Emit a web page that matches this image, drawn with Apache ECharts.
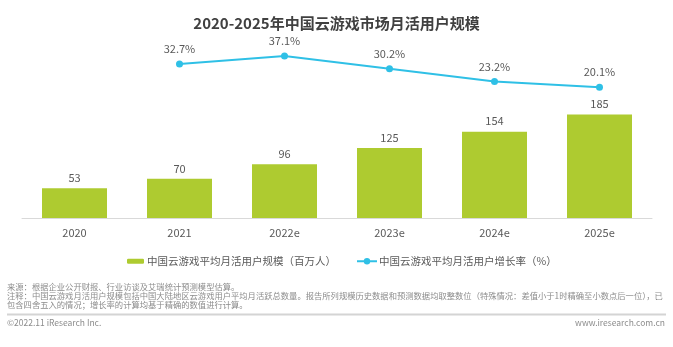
<!DOCTYPE html>
<html>
<head>
<meta charset="utf-8">
<script src="https://cdn.jsdelivr.net/npm/echarts@6/dist/echarts.min.js"></script>
<style>
html,body{margin:0;padding:0;background:#fff;}
#chart{width:673px;height:347px;}
</style>
</head>
<body>
<div id="chart"></div>
<script>
// Monthly active cloud-gaming users in China, 2020-2025e
const categories = ['2020', '2021', '2022e', '2023e', '2024e', '2025e'];
const userScale = [53, 70, 96, 125, 154, 185];           // millions
const growthRate = [null, 32.7, 37.1, 30.2, 23.2, 20.1]; // %

const barName = '中国云游戏平均月活用户规模（百万人）';
const lineName = '中国云游戏平均月活用户增长率（%）';

const FONT = '"Noto Sans CJK SC", "Noto Sans", sans-serif';
const GREEN = '#aecb30';
const CYAN = '#2fc0e6';
const GRAY = '#595959';

const footNotes = [
  '来源：根据企业公开财报、行业访谈及艾瑞统计预测模型估算。',
  '注释：中国云游戏月活用户规模包括中国大陆地区云游戏用户平均月活跃总数量。报告所列规模历史数据和预测数据均取整数位（特殊情况：差值小于1时精确至小数点后一位），已',
  '包含四舍五入的情况；增长率的计算均基于精确的数值进行计算。'
];

const chart = echarts.init(document.getElementById('chart'), null, {renderer: 'canvas'});

chart.setOption({
  backgroundColor: '#fff',
  animation: false,
  textStyle: {fontFamily: FONT},
  title: {
    text: '2020-2025年中国云游戏市场月活用户规模',
    left: 'center',
    top: 11,
    textStyle: {fontSize: 15, fontWeight: 'bold', color: '#404040', fontFamily: FONT}
  },
  legend: [
    {
      data: [barName],
      left: 122,
      top: 251,
      itemWidth: 17,
      itemHeight: 5,
      itemGap: 4,
      textStyle: {fontSize: 10.5, color: GRAY, fontFamily: FONT, padding: [0, 0, 0, -2]}
    },
    {
      data: [lineName],
      left: 351,
      top: 251,
      itemWidth: 20,
      itemHeight: 8,
      textStyle: {fontSize: 10.5, color: GRAY, fontFamily: FONT, padding: [0, 0, 0, -3]}
    }
  ],
  grid: {left: 22, right: 21, top: 40, bottom: 129},
  xAxis: {
    type: 'category',
    data: categories,
    axisLine: {lineStyle: {color: '#d9d9d9', width: 1}},
    axisTick: {show: false},
    axisLabel: {color: GRAY, fontSize: 11, margin: 9, fontFamily: FONT}
  },
  yAxis: [
    {type: 'value', min: 0, max: 318, show: false, splitLine: {show: false}},
    {type: 'value', min: -50.9, max: 45.8, show: false, splitLine: {show: false}}
  ],
  series: [
    {
      name: barName,
      type: 'bar',
      yAxisIndex: 0,
      data: userScale,
      barWidth: 65,
      itemStyle: {color: GREEN},
      label: {show: true, position: 'top', distance: 5, color: GRAY, fontSize: 11, fontFamily: FONT}
    },
    {
      name: lineName,
      type: 'line',
      yAxisIndex: 1,
      data: growthRate,
      symbol: 'circle',
      symbolSize: 7,
      lineStyle: {color: CYAN, width: 2},
      itemStyle: {color: CYAN},
      label: {
        show: true, position: 'top', distance: 6, color: GRAY, fontSize: 11, fontFamily: FONT,
        formatter: p => p.value.toFixed(1) + '%'
      }
    }
  ],
  graphic: [
    {
      type: 'text', left: 7, top: 283,
      style: {text: footNotes.join('\n'), fontSize: 8.3, lineHeight: 8.7, fill: '#8c8c8c', fontFamily: FONT}
    },
    {
      type: 'line', shape: {x1: 7, y1: 314.5, x2: 666, y2: 314.5},
      style: {stroke: '#d4d4d4', lineWidth: 2}
    },
    {
      type: 'text', left: 7, top: 319,
      style: {text: '©2022.11 iResearch Inc.', fontSize: 8.5, fill: '#8c8c8c', fontFamily: FONT}
    },
    {
      type: 'text', right: 8, top: 319,
      style: {text: 'www.iresearch.com.cn', fontSize: 8.5, fill: '#8c8c8c', fontFamily: FONT}
    }
  ]
});
</script>
</body>
</html>
